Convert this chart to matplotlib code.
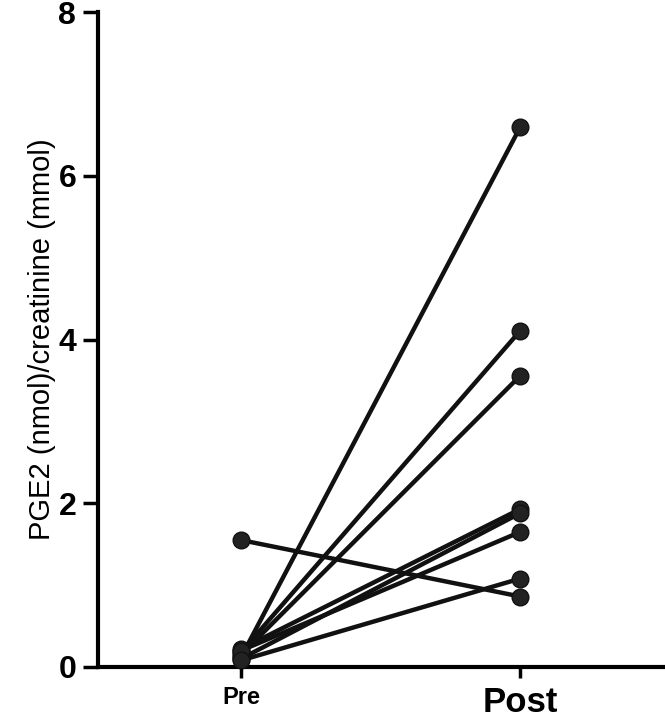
import matplotlib.pyplot as plt
import matplotlib.font_manager as fm

# paired PGE2 values per subject
pre = [0.12, 0.18, 0.15, 0.22, 0.10, 0.20, 0.08, 1.55]
post = [6.60, 4.11, 3.56, 1.93, 1.88, 1.65, 1.08, 0.86]
groups = ['Pre', 'Post']

names = {f.name for f in fm.fontManager.ttflist}
narrow = 'Liberation Sans Narrow' if 'Liberation Sans Narrow' in names else 'Liberation Sans'
plt.rcParams['font.family'] = [narrow, 'DejaVu Sans']

fig = plt.figure(figsize=(6.65, 7.21), dpi=100)
ax = fig.add_axes([0.148, 0.075, 0.852, 0.908])

for a, b in zip(pre, post):
    ax.plot([0, 1], [a, b], color='#111111', lw=3.2, marker='o', ms=12,
            mfc='#222222', mec='#111111', solid_capstyle='round', zorder=3,
            clip_on=False)

ax.set_xlim(-0.511, 1.518)
ax.set_ylim(0, 8)
ax.set_yticks([0, 2, 4, 6, 8])
ax.set_yticklabels(['0', '2', '4', '6', '8'], fontsize=23, fontweight='bold')
ax.set_xticks([0, 1])
ax.set_xticklabels(groups, fontweight='bold')
ax.get_xticklabels()[0].set_fontsize(17)
ax.get_xticklabels()[1].set_fontsize(25)
ax.set_ylabel('PGE2 (nmol)/creatinine (mmol)', fontsize=21, labelpad=2)

for s in ['top', 'right']:
    ax.spines[s].set_visible(False)
for s in ['left', 'bottom']:
    ax.spines[s].set_linewidth(3)
ax.tick_params(axis='y', width=2.5, length=11, color='black', pad=5)
ax.tick_params(axis='x', width=2.5, length=8, color='black', pad=6)

fig.savefig('out.png', dpi=100)
